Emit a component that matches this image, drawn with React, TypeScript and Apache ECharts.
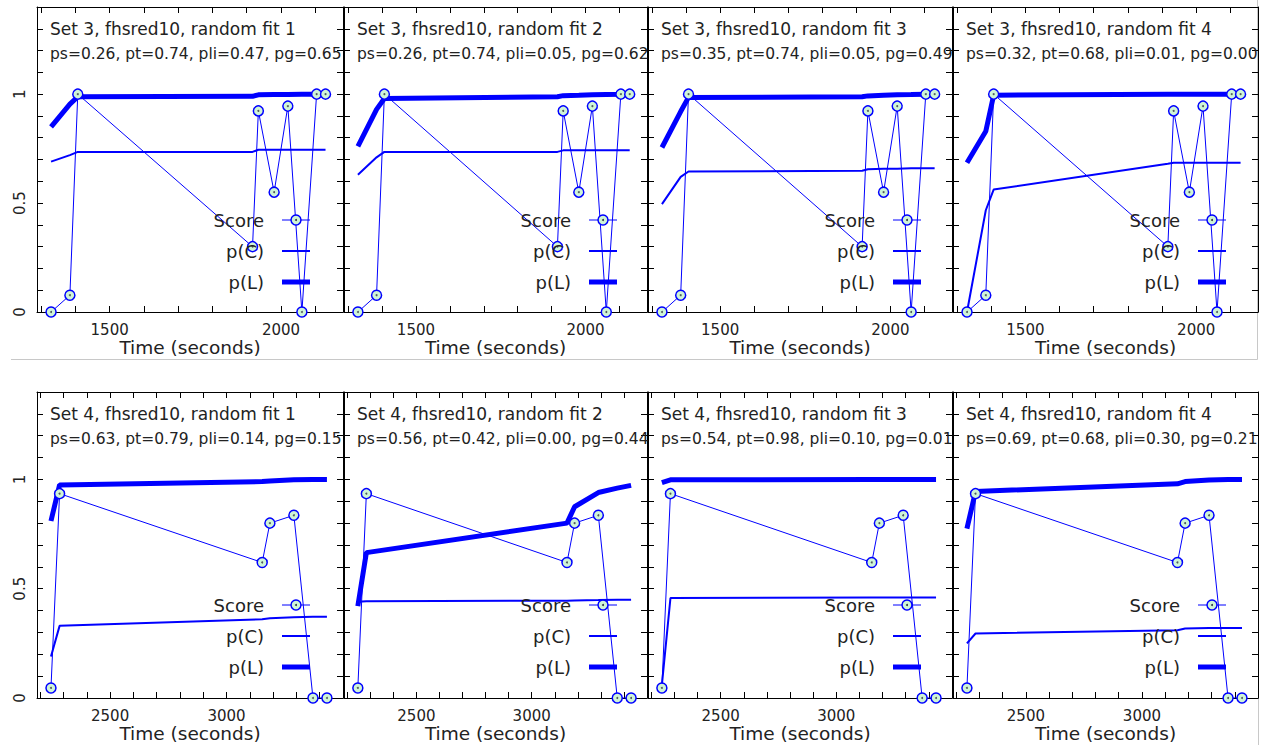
import React, { useEffect, useRef } from "react";
import * as echarts from "echarts";

// ---- data ----
const topTitles = [
  "Set 3, fhsred10, random fit 1",
  "Set 3, fhsred10, random fit 2",
  "Set 3, fhsred10, random fit 3",
  "Set 3, fhsred10, random fit 4",
];
const topParams = [
  "ps=0.26, pt=0.74, pli=0.47, pg=0.65",
  "ps=0.26, pt=0.74, pli=0.05, pg=0.62",
  "ps=0.35, pt=0.74, pli=0.05, pg=0.49",
  "ps=0.32, pt=0.68, pli=0.01, pg=0.00",
];
const botTitles = [
  "Set 4, fhsred10, random fit 1",
  "Set 4, fhsred10, random fit 2",
  "Set 4, fhsred10, random fit 3",
  "Set 4, fhsred10, random fit 4",
];
const botParams = [
  "ps=0.63, pt=0.79, pli=0.14, pg=0.15",
  "ps=0.56, pt=0.42, pli=0.00, pg=0.44",
  "ps=0.54, pt=0.98, pli=0.10, pg=0.01",
  "ps=0.69, pt=0.68, pli=0.30, pg=0.21",
];

const topTimes = [1329, 1384, 1407, 1917, 1934, 1980, 2020, 2061, 2104, 2130];
const topScore = [0, 0.077, 1.0, 0.3, 0.923, 0.55, 0.945, 0, 1.0, 1.0];
const topPC1 = [0.69, 0.72, 0.735, 0.735, 0.745, 0.745, 0.745, 0.745, 0.745, 0.745];
const topPC2 = [0.63, 0.71, 0.735, 0.735, 0.742, 0.742, 0.742, 0.742, 0.742, 0.742];
const topPC3 = [0.495, 0.62, 0.645, 0.648, 0.655, 0.657, 0.658, 0.66, 0.66, 0.66];
const topPC4 = [0.0, 0.467, 0.562, 0.68, 0.685, 0.685, 0.685, 0.685, 0.685, 0.685];
const topPL1 = [0.85, 0.954, 0.988, 0.99, 0.997, 0.998, 0.998, 0.999, 1.0, 1.0];
const topPL2 = [0.76, 0.93, 0.98, 0.988, 0.993, 0.995, 0.997, 0.998, 0.999, 1.0];
const topPL3 = [0.755, 0.92, 0.985, 0.988, 0.992, 0.995, 0.997, 0.998, 1.0, 1.0];
const topPL4 = [0.685, 0.83, 0.995, 1.0, 1.0, 1.0, 1.0, 1.0, 1.0, 1.0];

const botTimes = [2246, 2283, 3153, 3186, 3289, 3371, 3431];
const botScore = [0.046, 0.935, 0.62, 0.8, 0.836, 0, 0];
const botPC1 = [0.19, 0.33, 0.36, 0.365, 0.37, 0.372, 0.372];
const botPC2 = [0.44, 0.443, 0.445, 0.446, 0.448, 0.45, 0.45];
const botPC3 = [0.06, 0.457, 0.46, 0.46, 0.46, 0.46, 0.46];
const botPC4 = [0.25, 0.295, 0.31, 0.318, 0.32, 0.32, 0.32];
const botPL1 = [0.81, 0.975, 0.99, 0.993, 0.998, 1.0, 1.0];
const botPL2 = [0.42, 0.665, 0.8, 0.875, 0.94, 0.96, 0.973];
const botPL3 = [0.985, 0.998, 1.0, 1.0, 1.0, 1.0, 1.0];
const botPL4 = [0.775, 0.945, 0.98, 0.99, 0.997, 1.0, 1.0];

const topXTicks = [1300, 1400, 1500, 1600, 1700, 1800, 1900, 2000, 2100];
const topXLabels = [1500, 2000];
const botXTicks = [2200, 2300, 2400, 2500, 2600, 2700, 2800, 2900, 3000, 3100, 3200, 3300, 3400];
const botXLabels = [2500, 3000];
const yTicks = [0, 0.1, 0.2, 0.3, 0.4, 0.5, 0.6, 0.7, 0.8, 0.9, 1.0, 1.1, 1.2, 1.3];
const yLabels = [0, 0.5, 1];
const legendNames = ["Score", "p(C)", "p(L)"];

// ---- layout ----
const FONT = "DejaVu Sans";
const BLUE = "#0000ff";
const MARK_FILL = "#cff5d6";
const TEXT = "#222";
const gridLefts = [37, 344, 648, 953];
const gridWidths = [306, 303, 304, 305];
const rowTops = [7, 392];
const rowHeights = [305, 306];
const rowXRange = [
  [1288, 2181],
  [2186, 3500],
];

export default function App() {
  const ref = useRef<HTMLDivElement>(null);

  useEffect(() => {
    if (!ref.current) return;
    const chart = echarts.init(ref.current, null, { renderer: "svg" });

    const grids: any[] = [];
    const xAxes: any[] = [];
    const yAxes: any[] = [];
    const series: any[] = [];
    const graphics: any[] = [];

    const rows = [
      { times: topTimes, score: topScore, pc: [topPC1, topPC2, topPC3, topPC4], pl: [topPL1, topPL2, topPL3, topPL4], titles: topTitles, params: topParams, ticks: topXTicks, labels: topXLabels },
      { times: botTimes, score: botScore, pc: [botPC1, botPC2, botPC3, botPC4], pl: [botPL1, botPL2, botPL3, botPL4], titles: botTitles, params: botParams, ticks: botXTicks, labels: botXLabels },
    ];

    rows.forEach((row, r) => {
      for (let c = 0; c < 4; c++) {
        const g = r * 4 + c;
        const left = gridLefts[c];
        const top = rowTops[r];
        grids.push({ left, top, width: gridWidths[c], height: rowHeights[r], show: false });

        const xBase = {
          type: "value",
          gridIndex: g,
          min: rowXRange[r][0],
          max: rowXRange[r][1],
          splitLine: { show: false },
          axisLine: { show: true, onZero: false, lineStyle: { color: "#000", width: 1 } },
          axisTick: { show: true, inside: true, length: 6, customValues: row.ticks, lineStyle: { color: "#000", width: 1 } },
        };
        xAxes.push({
          ...xBase,
          position: "bottom",
          axisLabel: {
            show: true,
            customValues: row.labels,
            fontSize: 15,
            color: TEXT,
            margin: 10,
            fontFamily: FONT,
            formatter: (v: number) => String(v),
          },
          name: "Time (seconds)",
          nameLocation: "middle",
          nameGap: 23,
          nameTextStyle: { fontSize: 18.5, color: TEXT, fontFamily: FONT },
        });
        xAxes.push({ ...xBase, position: "top", axisLabel: { show: false } });

        const yBase = {
          type: "value",
          gridIndex: g,
          min: 0,
          max: 1.4,
          splitLine: { show: false },
          axisLine: { show: true, onZero: false, lineStyle: { color: "#000", width: 1 } },
          axisTick: { show: true, inside: true, length: 6, customValues: yTicks, lineStyle: { color: "#000", width: 1 } },
        };
        yAxes.push({
          ...yBase,
          position: "left",
          axisLabel: {
            show: c === 0,
            customValues: yLabels,
            rotate: 90,
            fontSize: 15,
            color: TEXT,
            margin: 10,
            fontFamily: FONT,
            formatter: (v: number) => String(v),
          },
        });
        yAxes.push({ ...yBase, position: "right", axisLabel: { show: false } });

        const xi = 2 * g;
        const yi = 2 * g;
        series.push({
          type: "line",
          name: legendNames[1],
          xAxisIndex: xi,
          yAxisIndex: yi,
          data: row.times.map((t, i) => [t, row.pc[c][i]]),
          showSymbol: false,
          symbol: "none",
          lineStyle: { color: BLUE, width: 2 },
          z: 2,
        });
        series.push({
          type: "line",
          name: legendNames[2],
          xAxisIndex: xi,
          yAxisIndex: yi,
          data: row.times.map((t, i) => [t, row.pl[c][i]]),
          showSymbol: false,
          symbol: "none",
          lineStyle: { color: BLUE, width: 5 },
          z: 3,
        });
        series.push({
          type: "line",
          name: legendNames[0],
          xAxisIndex: xi,
          yAxisIndex: yi,
          data: row.times.map((t, i) => [t, row.score[i]]),
          symbol: "circle",
          symbolSize: 10,
          showSymbol: true,
          lineStyle: { color: BLUE, width: 1 },
          itemStyle: { color: MARK_FILL, borderColor: BLUE, borderWidth: 1.5 },
          z: 4,
        });
        series.push({
          type: "scatter",
          xAxisIndex: xi,
          yAxisIndex: yi,
          data: row.times.map((t, i) => [t, row.score[i]]),
          symbol: "circle",
          symbolSize: 2,
          itemStyle: { color: "#334" },
          z: 5,
        });

        // titles
        graphics.push({
          type: "text",
          left: left + 13,
          top: top + 13,
          style: { text: row.titles[c], fontSize: 17, fontFamily: FONT, fill: TEXT },
          z: 10,
        });
        graphics.push({
          type: "text",
          left: left + 13,
          top: top + 39,
          style: { text: row.params[c], fontSize: 15.5, fontFamily: FONT, fill: TEXT },
          z: 10,
        });

        // legend
        const legY = [top + 213, top + 244, top + 275];
        const lx0 = left + 245;
        const lx1 = left + 273;
        legendNames.forEach((nm, k) => {
          graphics.push({
            type: "text",
            x: left + 227,
            y: legY[k],
            style: { text: nm, fontSize: 18, fontFamily: FONT, fill: TEXT, align: "right", verticalAlign: "middle" },
            z: 10,
          });
        });
        graphics.push({ type: "line", shape: { x1: lx0, y1: legY[0], x2: lx1, y2: legY[0] }, style: { stroke: BLUE, lineWidth: 1 }, z: 10 });
        graphics.push({ type: "circle", shape: { cx: left + 259, cy: legY[0], r: 5 }, style: { fill: MARK_FILL, stroke: BLUE, lineWidth: 1.5 }, z: 11 });
        graphics.push({ type: "circle", shape: { cx: left + 259, cy: legY[0], r: 1 }, style: { fill: "#334" }, z: 12 });
        graphics.push({ type: "line", shape: { x1: lx0, y1: legY[1], x2: lx1, y2: legY[1] }, style: { stroke: BLUE, lineWidth: 2 }, z: 10 });
        graphics.push({ type: "line", shape: { x1: lx0, y1: legY[2], x2: lx1, y2: legY[2] }, style: { stroke: BLUE, lineWidth: 5 }, z: 10 });
      }
    });

    // light image frames
    graphics.push({ type: "line", shape: { x1: 11, y1: 359.5, x2: 1257.5, y2: 359.5 }, style: { stroke: "#c8c8c8", lineWidth: 1 }, z: 0 });
    graphics.push({ type: "line", shape: { x1: 1257.5, y1: 0, x2: 1257.5, y2: 359.5 }, style: { stroke: "#c8c8c8", lineWidth: 1 }, z: 0 });
    graphics.push({ type: "line", shape: { x1: 1258.5, y1: 698, x2: 1258.5, y2: 745 }, style: { stroke: "#c8c8c8", lineWidth: 1 }, z: 0 });

    chart.setOption({
      animation: false,
      backgroundColor: "#fff",
      textStyle: { fontFamily: FONT },
      grid: grids,
      xAxis: xAxes,
      yAxis: yAxes,
      series,
      graphic: graphics,
    });

    return () => chart.dispose();
  }, []);

  return (
    <div
      ref={ref}
      style={{ position: "absolute", left: 0, top: 0, width: 1267, height: 745 }}
    />
  );
}
